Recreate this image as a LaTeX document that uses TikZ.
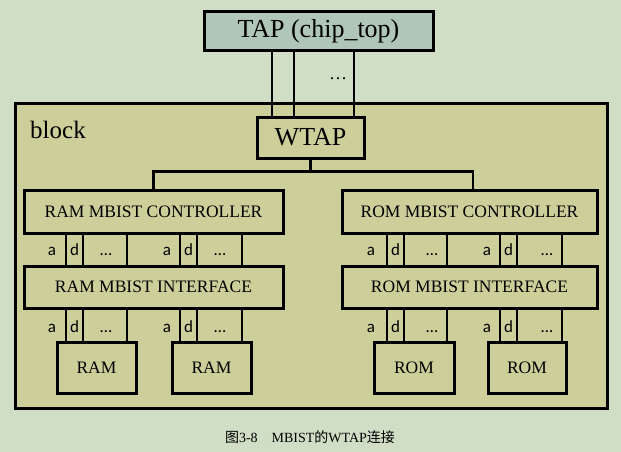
\documentclass[tikz,border=0pt]{standalone}
\usepackage{fontspec}
\setmainfont{Liberation Serif}
\newfontfamily\calfont{Carlito}
\newfontfamily\cjk{Noto Sans CJK SC}
\definecolor{bg}{RGB}{207,222,197}
\definecolor{blockfill}{RGB}{205,207,154}
\definecolor{tapfill}{RGB}{176,198,184}
\begin{document}
\begin{tikzpicture}[x=1pt,y=-1pt,
  box/.style={draw=black,line width=3pt,fill=blockfill,inner sep=0pt,font=\fontsize{17.5}{19}\selectfont},
  wire/.style={draw=black,line width=2.5pt},
  sig/.style={font=\calfont\fontsize{17}{19}\selectfont,inner sep=0pt,anchor=base}]
\fill[bg] (0,0) rectangle (621,452);
\useasboundingbox (0,0) rectangle (621,452);
% block
\node[box,minimum width=592pt,minimum height=305pt] (block) at (311,255.5) {};
\node[anchor=west,inner sep=0pt,font=\fontsize{25}{27}\selectfont] (blabel) at (30,130) {block};
% TAP
\node[box,fill=tapfill,minimum width=229pt,minimum height=39pt,font=\fontsize{26}{28}\selectfont] (tap) at (318.5,31.5) {TAP (chip\_top)};
\node[box,minimum width=107pt,minimum height=41pt,font=\fontsize{26}{28}\selectfont] (wtap) at (310.5,137.5) {WTAP};
\node[inner sep=0pt,anchor=base,font=\fontsize{18}{20}\selectfont] (tdots) at (338,79) {…};
% controllers and interfaces
\node[box,minimum width=259pt,minimum height=43pt] (ramc) at (153.5,211.5) {RAM MBIST CONTROLLER};
\node[box,minimum width=259pt,minimum height=42pt] (rami) at (153.5,287) {RAM MBIST INTERFACE};
\node[box,minimum width=255pt,minimum height=43pt] (romc) at (469.5,211.5) {ROM MBIST CONTROLLER};
\node[box,minimum width=255pt,minimum height=42pt] (romi) at (469.5,287) {ROM MBIST INTERFACE};
% memories
\node[box,minimum width=79pt,minimum height=51pt] (ram1) at (96.5,367.5) {RAM};
\node[box,minimum width=79pt,minimum height=51pt] (ram2) at (211.5,367.5) {RAM};
\node[box,minimum width=80pt,minimum height=51pt] (rom1) at (414,367.5) {ROM};
\node[box,minimum width=78pt,minimum height=51pt] (rom2) at (527,367.5) {ROM};
% TAP to WTAP
\foreach \x in {272,294,354} \draw[wire] (\x,0 |- tap.south) -- (\x,0 |- wtap.north);
% WTAP to controllers
\coordinate (jn) at ([yshift=-12pt]wtap.south);
\draw[wire] (wtap.south) -- (jn);
\draw[wire] (ramc.north) |- (jn) -| ([xshift=3.5pt]romc.north);
% controller to interface
\foreach \x in {66,83,127,180,197,242} \draw[wire] (\x,0 |- ramc.south) -- (\x,0 |- rami.north);
\foreach \x in {387,404,447,500,517,562} \draw[wire] (\x,0 |- romc.south) -- (\x,0 |- romi.north);
% interface to memories
\foreach \x in {66,83,127} \draw[wire] (\x,0 |- rami.south) -- (\x,0 |- ram1.north);
\foreach \x in {180,197,242} \draw[wire] (\x,0 |- rami.south) -- (\x,0 |- ram2.north);
\foreach \x in {387,404,447} \draw[wire] (\x,0 |- romi.south) -- (\x,0 |- rom1.north);
\foreach \x in {500,517,562} \draw[wire] (\x,0 |- romi.south) -- (\x,0 |- rom2.north);
% signal labels
\foreach \y/\r in {255/u,332/l}{
  \foreach \xa/\xd/\xe/\n in {52/74.5/106/p,167/188.5/220/q,371/395.5/432/r,487/508.5/547/s}{
    \node[sig] (a\n\r) at (\xa,\y) {a};
    \node[sig] (d\n\r) at (\xd,\y) {d};
    \node[sig] (e\n\r) at (\xe,\y) {…};
  }
}
% caption
\node[inner sep=0pt,font=\fontsize{14}{16}\selectfont] (cap) at (310,437) {{\cjk 图}3-8\quad MBIST{\cjk 的}WTAP{\cjk 连接}};
\end{tikzpicture}
\end{document}
